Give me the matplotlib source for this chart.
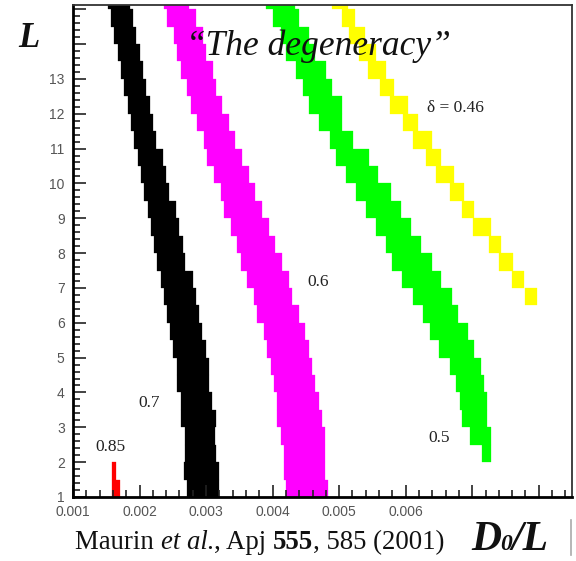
import numpy as np
import matplotlib
matplotlib.use("Agg")
import matplotlib.pyplot as plt
from matplotlib.ticker import MultipleLocator

# lower edge of each L bin (bin height 0.5)
L_rows = [1.0, 1.5, 2.0, 2.5, 3.0, 3.5, 4.0, 4.5, 5.0, 5.5, 6.0, 6.5, 7.0, 7.5,
          8.0, 8.5, 9.0, 9.5, 10.0, 10.5, 11.0, 11.5, 12.0, 12.5, 13.0, 13.5,
          14.0, 14.5, 15.0]

# delta = 0.7 (black), D0/L range per row
black_lo = [0.00271, 0.00267, 0.00268, 0.00268, 0.00262, 0.00262, 0.00257, 0.00257,
            0.00251, 0.00246, 0.00241, 0.00237, 0.00232, 0.00227, 0.00222, 0.00217,
            0.00212, 0.00207, 0.00202, 0.00197, 0.00192, 0.00187, 0.00182, 0.00177,
            0.00172, 0.00167, 0.00162, 0.00157, 0.00152]
black_hi = [0.00319, 0.00319, 0.00315, 0.00314, 0.00315, 0.00309, 0.00305, 0.00305,
            0.00300, 0.00294, 0.00289, 0.00285, 0.00280, 0.00269, 0.00265, 0.00260,
            0.00255, 0.00245, 0.00240, 0.00235, 0.00225, 0.00220, 0.00215, 0.00210,
            0.00205, 0.00200, 0.00195, 0.00190, 0.00185]

# delta = 0.6 (magenta)
mag_lo = [0.00420, 0.00417, 0.00417, 0.00412, 0.00407, 0.00407, 0.00402, 0.00397,
          0.00392, 0.00387, 0.00377, 0.00372, 0.00362, 0.00352, 0.00347, 0.00337,
          0.00327, 0.00322, 0.00312, 0.00302, 0.00297, 0.00287, 0.00277, 0.00272,
          0.00262, 0.00257, 0.00252, 0.00242, 0.00237]
mag_hi = [0.00484, 0.00479, 0.00479, 0.00479, 0.00474, 0.00469, 0.00464, 0.00459,
          0.00454, 0.00449, 0.00439, 0.00429, 0.00424, 0.00414, 0.00404, 0.00394,
          0.00384, 0.00374, 0.00364, 0.00354, 0.00344, 0.00334, 0.00324, 0.00315,
          0.00310, 0.00300, 0.00295, 0.00285, 0.00275]

# delta = 0.5 (green), starts at L = 2
green_L = L_rows[2:]
green_lo = [0.00715, 0.00696, 0.00685, 0.00681, 0.00675, 0.00666, 0.00650, 0.00636,
            0.00626, 0.00611, 0.00595, 0.00580, 0.00571, 0.00556, 0.00541, 0.00526,
            0.00511, 0.00496, 0.00486, 0.00470, 0.00455, 0.00445, 0.00435, 0.00420,
            0.00413, 0.00400, 0.00390]
green_hi = [0.00728, 0.00728, 0.00722, 0.00722, 0.00718, 0.00713, 0.00703, 0.00693,
            0.00678, 0.00669, 0.00653, 0.00639, 0.00623, 0.00608, 0.00593, 0.00578,
            0.00559, 0.00545, 0.00521, 0.00505, 0.00505, 0.00490, 0.00480, 0.00463,
            0.00455, 0.00440, 0.00433]

# delta = 0.46 (yellow), starts at L = 6.5
yellow_L = L_rows[11:]
yellow_lo = [0.00780, 0.00760, 0.00741, 0.00725, 0.00701, 0.00685, 0.00666, 0.00645,
             0.00631, 0.00611, 0.00596, 0.00576, 0.00561, 0.00544, 0.00530, 0.00515,
             0.00505, 0.00490]
yellow_hi = [0.00798, 0.00778, 0.00762, 0.00743, 0.00728, 0.00703, 0.00688, 0.00673,
             0.00653, 0.00640, 0.00618, 0.00603, 0.00583, 0.00570, 0.00555, 0.00539,
             0.00524, 0.00514]

# delta = 0.85 (red)
red_L = L_rows[:2]
red_lo = [0.00158, 0.00158]
red_hi = [0.00170, 0.00165]

bands = [
    (L_rows, black_lo, black_hi, "black"),
    (L_rows, mag_lo, mag_hi, "#ff00ff"),
    (green_L, green_lo, green_hi, "#00ff00"),
    (yellow_L, yellow_lo, yellow_hi, "#ffff00"),
    (red_L, red_lo, red_hi, "#ff0000"),
]

serif = "Liberation Serif"
ink = "#111111"

fig = plt.figure(figsize=(5.76, 5.61), dpi=100)
ax = fig.add_axes([73 / 576, 1 - 497 / 561, (572 - 73) / 576, (497 - 5) / 561])

for rows, lo, hi, col in bands:
    lo = np.array(lo)
    hi = np.array(hi)
    ax.barh(rows, hi - lo, left=lo, height=0.5, align="edge", color=col,
            edgecolor=col, linewidth=0.2)

ax.set_xlim(0.001, 0.0085)
ax.set_ylim(1, 15.12)

ax.set_xticks([0.001, 0.002, 0.003, 0.004, 0.005, 0.006, 0.007, 0.008])
ax.set_xticklabels(["0.001", "0.002", "0.003", "0.004", "0.005", "0.006", "", ""])
ax.set_yticks(range(1, 16))
ax.set_yticklabels([str(i) for i in range(1, 14)] + ["", ""])
ax.xaxis.set_minor_locator(MultipleLocator(0.0002))
ax.yaxis.set_minor_locator(MultipleLocator(0.2))
ax.tick_params(which="both", direction="in", top=False, right=False,
               width=1.2, color="#222222", labelcolor="#555555")
ax.tick_params(which="major", length=9, pad=6)
ax.tick_params(which="minor", length=5)
for lab in ax.get_xticklabels() + ax.get_yticklabels():
    lab.set_fontfamily("Liberation Sans")
    lab.set_fontsize(10)

for s in ["left", "bottom"]:
    ax.spines[s].set_linewidth(2)
for s in ["top", "right"]:
    ax.spines[s].set_linewidth(1.3)
    ax.spines[s].set_color("#333333")

# curve labels
for x, y, s in [(0.00157, 2.43, "0.85"), (0.00215, 3.69, "0.7"),
                (0.00468, 7.16, "0.6"), (0.00651, 2.69, "0.5"),
                (0.00675, 12.17, "δ = 0.46")]:
    ax.text(x, y, s, fontsize=12.5, family=serif, color="#222222",
            ha="center", va="center")

fig.text(18 / 576, 1 - 47 / 561, "L", fontsize=25, family=serif,
         style="italic", weight="bold", color=ink, va="baseline")
fig.text(318 / 576, 1 - 55 / 561, "\u201cThe degeneracy\u201d", fontsize=25.5,
         family=serif, style="italic", color=ink, ha="center", va="baseline")

# text made of pieces in different styles, laid side by side
renderer = fig.canvas.get_renderer()


def run_text(x0, y0, pieces):
    x = x0
    for s, kw in pieces:
        t = fig.text(x, y0, s, va="baseline", family=serif, color=ink, **kw)
        bb = t.get_window_extent(renderer)
        x = x + bb.width / fig.bbox.width


run_text(75 / 576, 1 - 549 / 561, [
    ("Maurin ", dict(fontsize=19.3)),
    ("et al.", dict(fontsize=19.3, style="italic")),
    (", Apj ", dict(fontsize=19.3)),
    ("555", dict(fontsize=19.3, weight="bold")),
    (", 585 (2001)", dict(fontsize=19.3)),
])

# axis title D0/L
fig.text(471 / 576, 1 - 550 / 561, "D", fontsize=30, family=serif,
         style="italic", weight="bold", color=ink, va="baseline")
fig.text(500 / 576, 1 - 550 / 561, "0", fontsize=17, family=serif,
         style="italic", weight="bold", color=ink, va="baseline")
fig.text(512 / 576, 1 - 550 / 561, "/L", fontsize=30, family=serif,
         style="italic", weight="bold", color=ink, va="baseline")

# stray frame mark at the right edge
fig.add_artist(plt.Line2D([571 / 576, 571 / 576], [1 - 520 / 561, 1 - 555 / 561],
                          color="#aaaaaa", linewidth=1.2))

fig.savefig("out.png", dpi=100)
